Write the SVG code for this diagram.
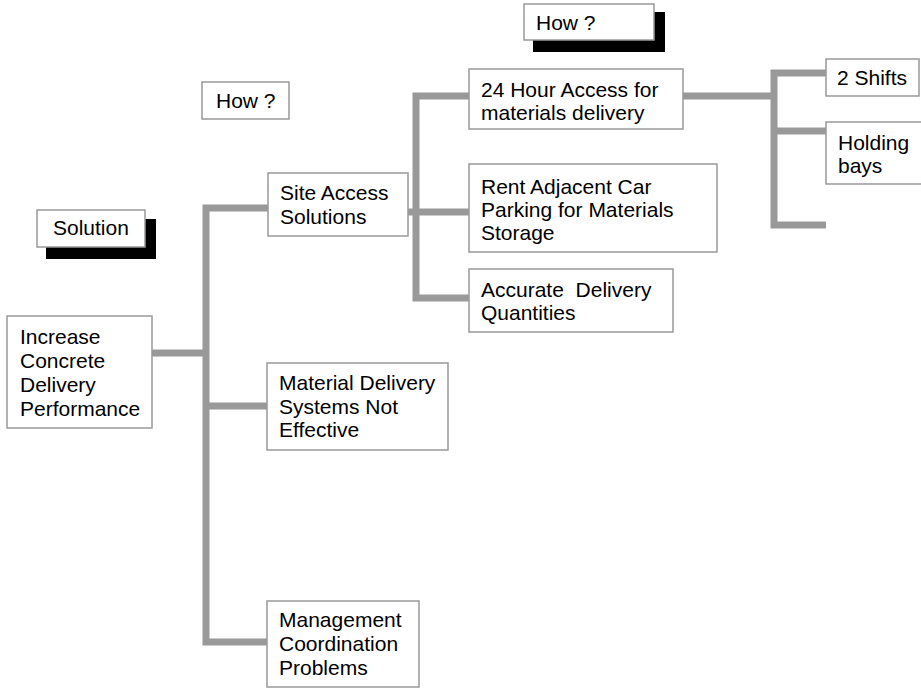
<svg xmlns="http://www.w3.org/2000/svg" width="921" height="688" viewBox="0 0 921 688">
<style>
.box{fill:#fff;stroke:#999;stroke-width:1.5}
.sh{fill:#000}
.t{font-family:"Liberation Sans",Arial,Helvetica,sans-serif;font-size:21px;fill:#000}
.c{fill:none;stroke:#999;stroke-width:7;stroke-linejoin:miter;stroke-linecap:butt}
</style>
<rect width="921" height="688" fill="#fff"/>
<g id="connectors">
<path class="c" d="M152,353 H206"/>
<path class="c" d="M268,208 H206 V642 H268"/>
<path class="c" d="M206,406 H268"/>
<path class="c" d="M408,212 H469"/>
<path class="c" d="M469,96 H416 V298 H469"/>
<path class="c" d="M683,96 H774"/>
<path class="c" d="M826,73 H774 V225 H826"/>
<path class="c" d="M774,131 H826"/>
</g>
<g id="label-solution">
<rect class="sh" x="46" y="219" width="110" height="40"/>
<rect class="box" x="37" y="210" width="108" height="37"/>
<text class="t" x="53" y="235">Solution</text>
</g>
<g id="label-how-1">
<rect class="box" x="202" y="82" width="87" height="37"/>
<text class="t" x="216" y="108">How ?</text>
</g>
<g id="label-how-2">
<rect class="sh" x="533" y="12" width="132" height="40"/>
<rect class="box" x="524" y="4" width="130" height="36"/>
<text class="t" x="536" y="30">How ?</text>
</g>
<g id="node-increase">
<rect class="box" x="7" y="316" width="145" height="112"/>
<text class="t" x="20"><tspan x="20" y="344">Increase</tspan><tspan x="20" y="368">Concrete</tspan><tspan x="20" y="392">Delivery</tspan><tspan x="20" y="416">Performance</tspan></text>
</g>
<g id="node-site">
<rect class="box" x="268" y="173" width="140" height="63"/>
<text class="t"><tspan x="280" y="200">Site Access</tspan><tspan x="280" y="224">Solutions</tspan></text>
</g>
<g id="node-material">
<rect class="box" x="267" y="363" width="181" height="87"/>
<text class="t"><tspan x="279" y="390">Material Delivery</tspan><tspan x="279" y="414">Systems Not</tspan><tspan x="279" y="437">Effective</tspan></text>
</g>
<g id="node-management">
<rect class="box" x="267" y="601" width="152" height="86"/>
<text class="t"><tspan x="279" y="627">Management</tspan><tspan x="279" y="651">Coordination</tspan><tspan x="279" y="675">Problems</tspan></text>
</g>
<g id="node-24hour">
<rect class="box" x="469" y="69" width="214" height="60"/>
<text class="t"><tspan x="481" y="97">24 Hour Access for</tspan><tspan x="481" y="120">materials delivery</tspan></text>
</g>
<g id="node-rent">
<rect class="box" x="469" y="164" width="248" height="88"/>
<text class="t"><tspan x="481" y="194">Rent Adjacent Car</tspan><tspan x="481" y="217">Parking for Materials</tspan><tspan x="481" y="240">Storage</tspan></text>
</g>
<g id="node-accurate">
<rect class="box" x="469" y="269" width="204" height="63"/>
<text class="t" style="white-space:pre"><tspan x="481" y="297">Accurate  Delivery</tspan><tspan x="481" y="320">Quantities</tspan></text>
</g>
<g id="node-shifts">
<rect class="box" x="826" y="59" width="93" height="37"/>
<text class="t" x="837" y="85">2 Shifts</text>
</g>
<g id="node-holding">
<rect class="box" x="826" y="122" width="100" height="62"/>
<text class="t"><tspan x="838" y="150">Holding</tspan><tspan x="838" y="173">bays</tspan></text>
</g>
</svg>
